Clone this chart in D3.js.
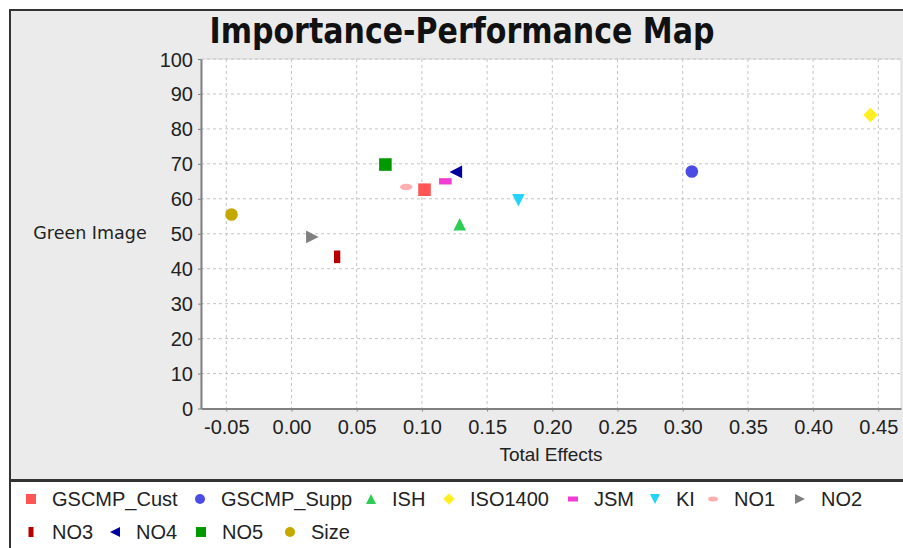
<!DOCTYPE html>
<html><head><meta charset="utf-8">
<script src="https://cdn.jsdelivr.net/npm/d3@7"></script>
<style>
html,body{margin:0;padding:0;background:#fff;}
svg{display:block;}
</style></head>
<body>
<script>
const categories = ["GSCMP_Cust","GSCMP_Supp","ISH","ISO1400","JSM","KI","NO1","NO2","NO3","NO4","NO5","Size"];
const totalEffects = [0.102, 0.307, 0.129, 0.444, 0.118, 0.174, 0.088, 0.016, 0.035, 0.126, 0.072, -0.046];
const performance = [62.6, 67.8, 52.7, 84.0, 65.0, 59.6, 63.4, 49.1, 43.4, 67.7, 69.8, 55.5];
const colors = ["#FF5555","#4B4BE6","#2ECC55","#FFEE22","#F03CD2","#22D4F8","#FFAFAF","#808080","#B80000","#0000A0","#009A00","#C4A800"];
const shapes = ["square","circle","triUp","diamond","hRect","triDown","hEllipse","triRight","vRect","triLeft","square","circle"];
const xTicks = [-0.05,0,0.05,0.10,0.15,0.20,0.25,0.30,0.35,0.40,0.45];
const yTicks = [0,10,20,30,40,50,60,70,80,90,100];
const title = "Importance-Performance Map";
const xLabel = "Total Effects";
const yLabel = "Green Image";
const legendRow = [0,0,0,0,0,0,0,0,1,1,1,1];

const W = 903, H = 548;
const svg = d3.select("body").append("svg").attr("width", W).attr("height", H);

// panel
svg.append("rect").attr("x",10).attr("y",10).attr("width",W+10).attr("height",470)
  .attr("fill","#EBEBEB").attr("stroke","#333").attr("stroke-width",2);
svg.append("rect").attr("x",10).attr("y",481).attr("width",W+10).attr("height",80)
  .attr("fill","#fff").attr("stroke","#333").attr("stroke-width",2);

const pl = 201, pr = 901, pt = 59, pb = 408.5;
const x = d3.scaleLinear().domain([-0.0694, 0.4674]).range([pl, pr]);
const y = d3.scaleLinear().domain([0, 100]).range([pb, pt]);

svg.append("rect").attr("x",pl).attr("y",pt).attr("width",pr-pl).attr("height",pb-pt)
  .attr("fill","#fff").attr("stroke","#d8d8d8").attr("stroke-width",1);

// grid
const grid = svg.append("g");
grid.selectAll("line.gx").data(xTicks).join("line")
  .attr("x1",d=>x(d)).attr("x2",d=>x(d)).attr("y1",pt).attr("y2",pb)
  .attr("stroke","#c4c4c4").attr("stroke-width",1).attr("stroke-dasharray","3,3");
grid.selectAll("line.gy").data(yTicks).join("line")
  .attr("x1",pl).attr("x2",pr).attr("y1",d=>y(d)).attr("y2",d=>y(d))
  .attr("stroke","#c4c4c4").attr("stroke-width",1).attr("stroke-dasharray","3,3");

// axes
const tickFont = "'Liberation Sans',Arial,sans-serif";
const xAxis = svg.append("g").attr("transform",`translate(0,${pb})`)
  .call(d3.axisBottom(x).tickValues(xTicks).tickFormat(d3.format(".2f")).tickSize(3).tickSizeOuter(0));
const yAxis = svg.append("g").attr("transform",`translate(${pl},0)`)
  .call(d3.axisLeft(y).tickValues(yTicks).tickSize(3).tickSizeOuter(0));
[xAxis,yAxis].forEach(a=>{
  a.select(".domain").attr("stroke","#808080").attr("stroke-width",2);
  a.selectAll(".tick line").attr("stroke","#808080");
  a.selectAll("text").attr("fill","#222").style("font-family",tickFont).style("font-size","20px");
});
xAxis.selectAll("text").text(d=>d3.format(".2f")(d).replace("−","-")).attr("dy","0.95em").attr("y",6);
yAxis.selectAll("text").attr("x",-8).attr("dy","0.35em");

// axis labels
svg.append("text").attr("x",551).attr("y",461).attr("text-anchor","middle")
  .style("font-family",tickFont).style("font-size","19px").attr("fill","#222").text(xLabel);
svg.append("text").attr("x",90).attr("y",239).attr("text-anchor","middle")
  .style("font-family","'DejaVu Sans',Verdana,sans-serif").style("font-size","17.5px").attr("fill","#222").text(yLabel);

// title
svg.append("text").attr("x",462).attr("y",43).attr("text-anchor","middle")
  .style("font-family","'DejaVu Sans',sans-serif").style("font-stretch","condensed").style("font-weight","bold")
  .style("font-size","35px").attr("fill","#111")
  .attr("textLength",505).attr("lengthAdjust","spacingAndGlyphs").text(title);

function shapePath(type, s){
  switch(type){
    case "square": return `M${-s},${-s}H${s}V${s}H${-s}Z`;
    case "circle": return d3.arc()({innerRadius:0,outerRadius:s,startAngle:0,endAngle:2*Math.PI});
    case "triUp": return `M0,${-s}L${s},${s}L${-s},${s}Z`;
    case "triDown": return `M0,${s}L${s},${-s}L${-s},${-s}Z`;
    case "triRight": return `M${s},0L${-s},${-s}L${-s},${s}Z`;
    case "triLeft": return `M${-s},0L${s},${-s}L${s},${s}Z`;
    case "diamond": { const t = s*1.15; return `M0,${-t}L${t},0L0,${t}L${-t},0Z`; }
    case "hRect": return `M${-s},${-s/2}H${s}V${s/2}H${-s}Z`;
    case "vRect": return `M${-s/2},${-s}H${s/2}V${s}H${-s/2}Z`;
    case "hEllipse": return `M${-s},0A${s},${s/2} 0 1,0 ${s},0A${s},${s/2} 0 1,0 ${-s},0Z`;
  }
}

const data = categories.map((c,i)=>({c, xv: totalEffects[i], yv: performance[i], col: colors[i], sh: shapes[i]}));

svg.append("g").selectAll("path").data(data).join("path")
  .attr("transform",d=>`translate(${x(d.xv)},${y(d.yv)})`)
  .attr("d",d=>shapePath(d.sh, 6.3))
  .attr("fill",d=>d.col);

// legend
const legendX = [[31,200,371,449,573,655,713,800],[31,115,201,290]];
const rowY = [499,532];
const leg = svg.append("g");
const counters=[0,0];
data.forEach((d,i)=>{
  const r = legendRow[i];
  const lx = legendX[r][counters[r]++];
  const ly = rowY[r];
  leg.append("path").attr("transform",`translate(${lx},${ly})`).attr("d",shapePath(d.sh,5)).attr("fill",d.col);
  leg.append("text").attr("x",lx+21).attr("y",ly+7).style("font-family",tickFont).style("font-size","20px")
    .attr("fill","#222").text(d.c);
});
</script>
</body></html>
